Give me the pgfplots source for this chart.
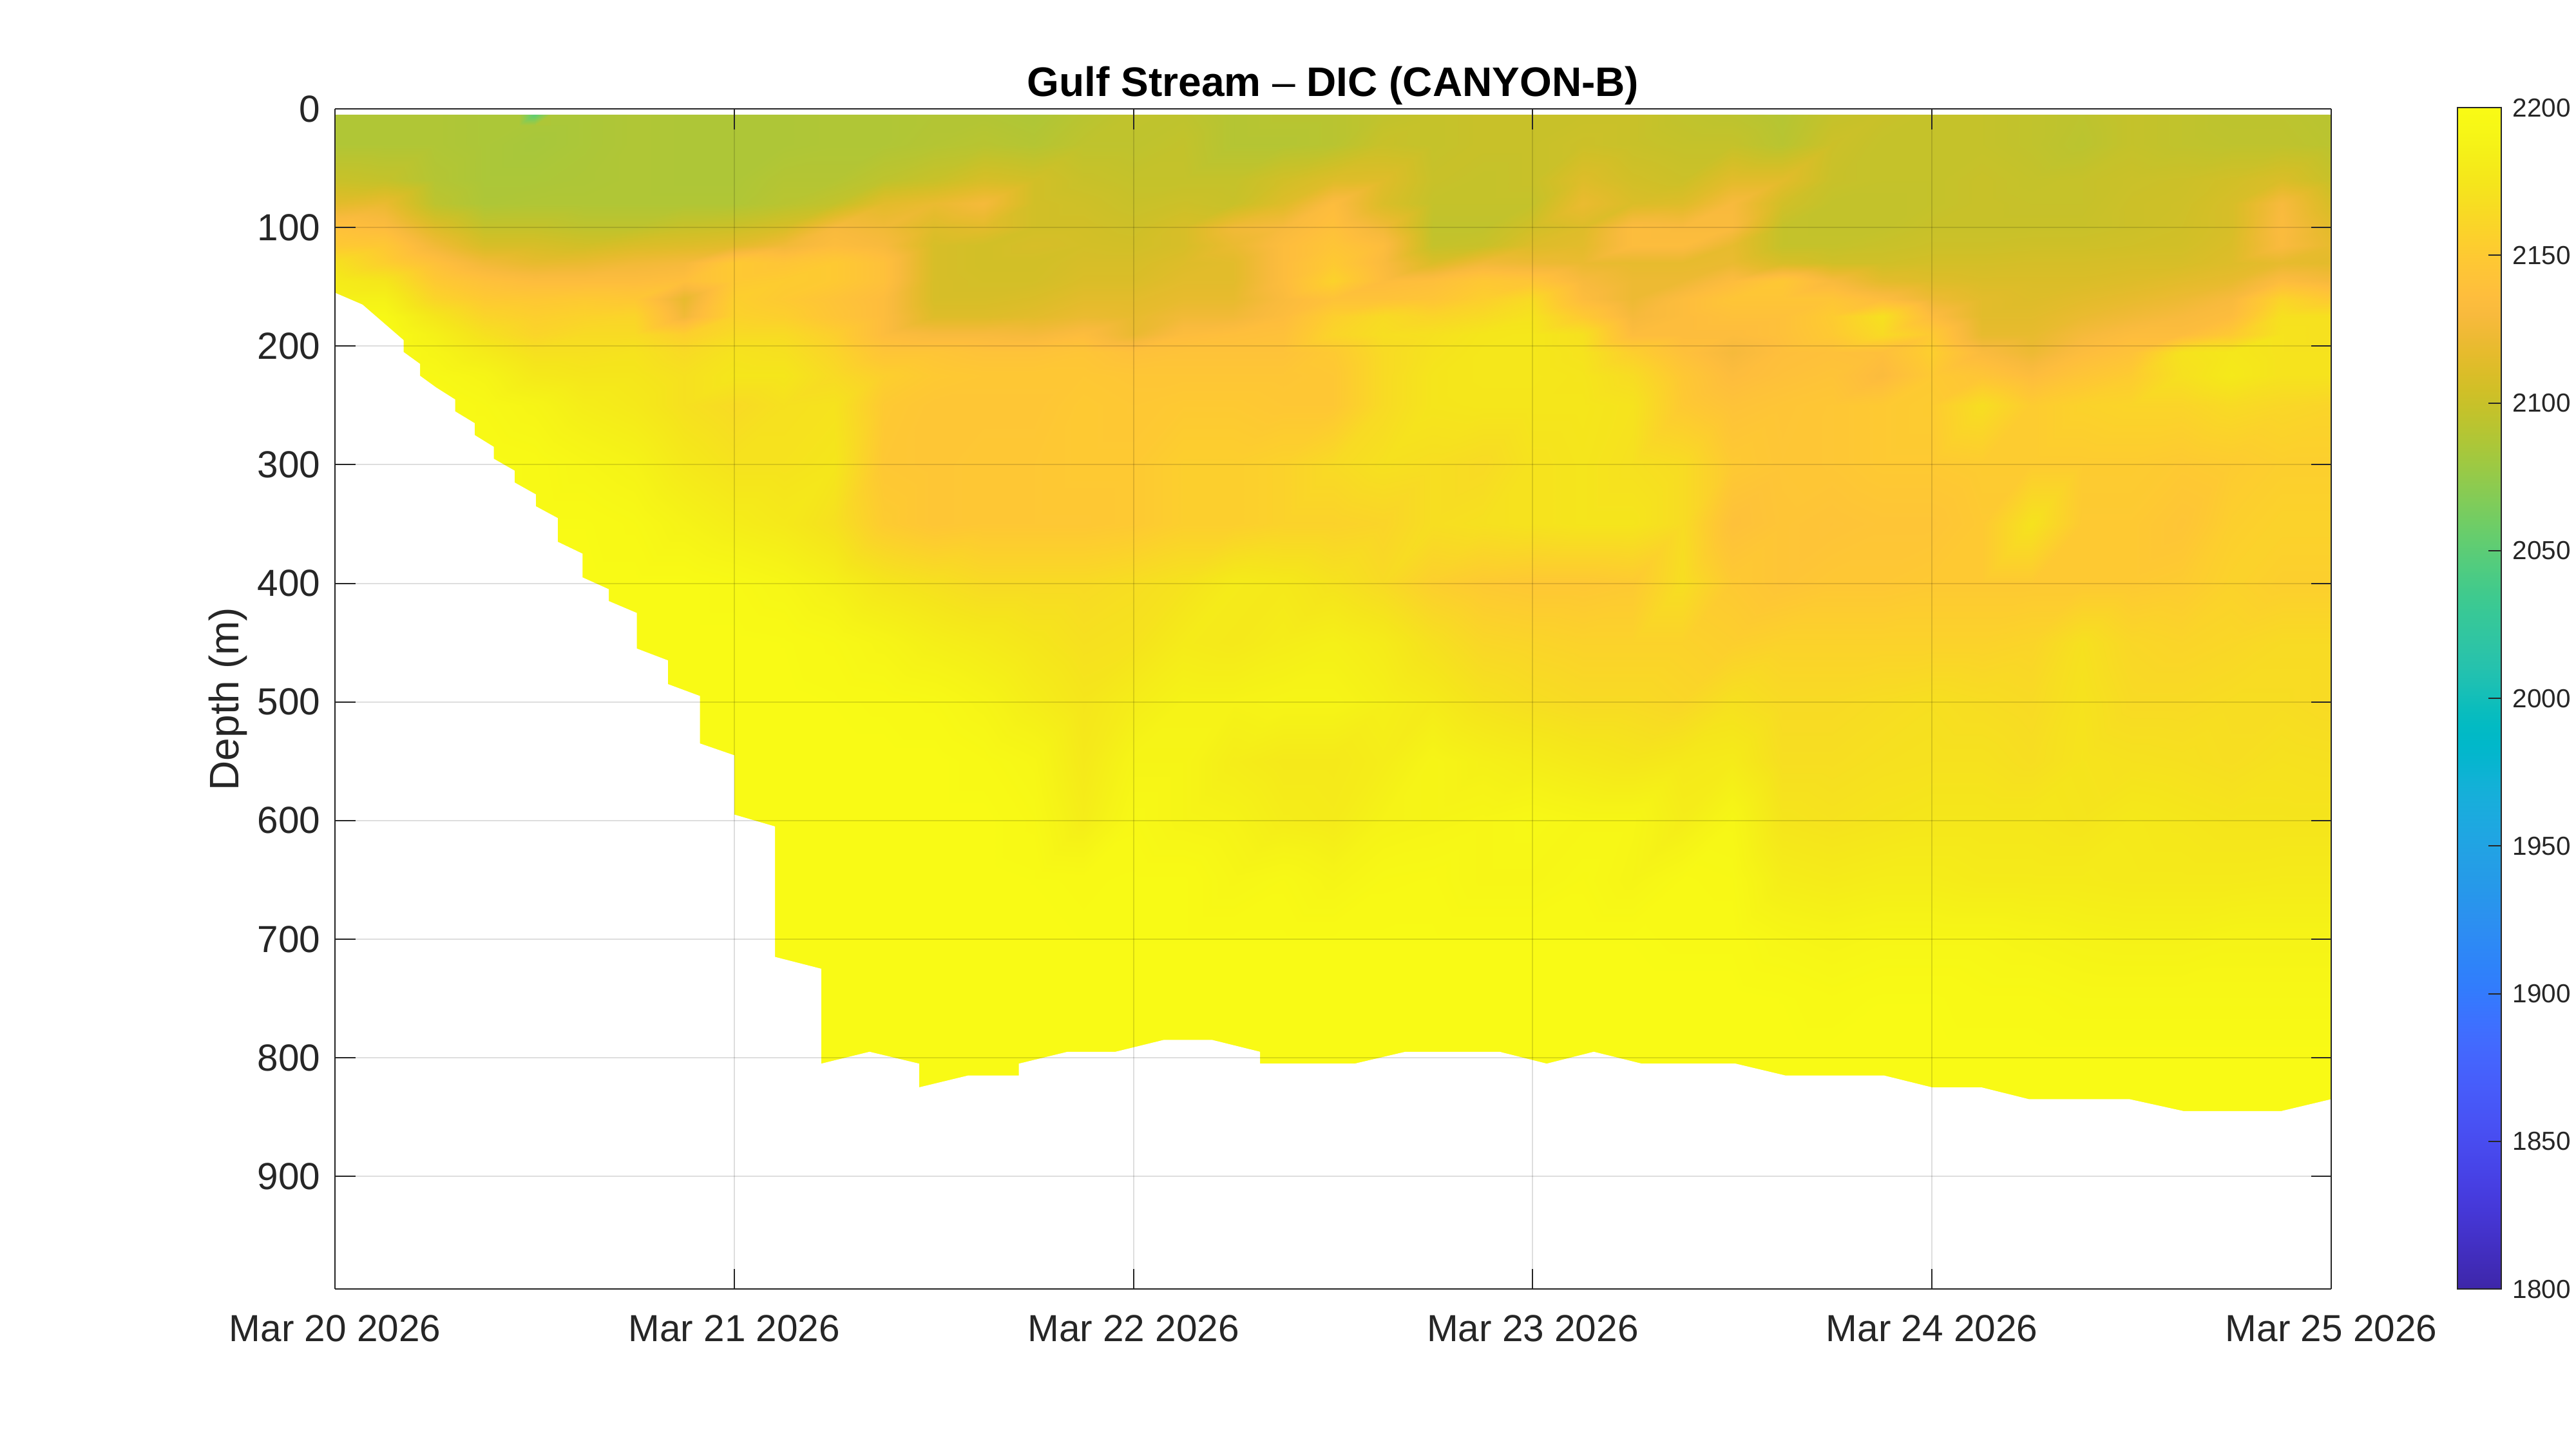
\documentclass[border=0pt]{standalone}
\usepackage{fontspec}
\setmainfont{Liberation Sans}
\usepackage{pgfplots}
\usepackage{pgfplotstable}
\pgfplotsset{compat=1.18}
\definecolor{axgray}{rgb}{0.15,0.15,0.15}
\pgfplotsset{colormap={parula}{
rgb=(0.2422,0.1504,0.6603) rgb=(0.2504,0.1650,0.7076) rgb=(0.2578,0.1818,0.7511) rgb=(0.2647,0.1978,0.7952)
rgb=(0.2706,0.2147,0.8364) rgb=(0.2751,0.2342,0.8710) rgb=(0.2783,0.2559,0.8991) rgb=(0.2803,0.2782,0.9221)
rgb=(0.2813,0.3006,0.9414) rgb=(0.2810,0.3228,0.9579) rgb=(0.2795,0.3447,0.9717) rgb=(0.2760,0.3667,0.9829)
rgb=(0.2699,0.3892,0.9906) rgb=(0.2602,0.4123,0.9952) rgb=(0.2440,0.4358,0.9988) rgb=(0.2206,0.4603,0.9973)
rgb=(0.1963,0.4847,0.9892) rgb=(0.1834,0.5074,0.9798) rgb=(0.1786,0.5289,0.9682) rgb=(0.1764,0.5499,0.9520)
rgb=(0.1687,0.5703,0.9359) rgb=(0.1540,0.5902,0.9218) rgb=(0.1460,0.6091,0.9079) rgb=(0.1380,0.6276,0.8973)
rgb=(0.1248,0.6459,0.8883) rgb=(0.1113,0.6635,0.8763) rgb=(0.0952,0.6798,0.8598) rgb=(0.0689,0.6948,0.8394)
rgb=(0.0297,0.7082,0.8163) rgb=(0.0036,0.7203,0.7917) rgb=(0.0067,0.7312,0.7660) rgb=(0.0433,0.7411,0.7394)
rgb=(0.0964,0.7500,0.7120) rgb=(0.1408,0.7584,0.6842) rgb=(0.1717,0.7670,0.6554) rgb=(0.1938,0.7758,0.6251)
rgb=(0.2161,0.7843,0.5923) rgb=(0.2470,0.7918,0.5567) rgb=(0.2906,0.7973,0.5188) rgb=(0.3406,0.8008,0.4789)
rgb=(0.3909,0.8029,0.4354) rgb=(0.4456,0.8024,0.3909) rgb=(0.5044,0.7993,0.3480) rgb=(0.5616,0.7942,0.3045)
rgb=(0.6174,0.7876,0.2612) rgb=(0.6720,0.7793,0.2227) rgb=(0.7242,0.7698,0.1910) rgb=(0.7738,0.7598,0.1646)
rgb=(0.8203,0.7498,0.1535) rgb=(0.8634,0.7406,0.1596) rgb=(0.9035,0.7330,0.1774) rgb=(0.9393,0.7288,0.2100)
rgb=(0.9728,0.7298,0.2394) rgb=(0.9956,0.7434,0.2371) rgb=(0.9970,0.7659,0.2199) rgb=(0.9952,0.7861,0.1990)
rgb=(0.9892,0.8134,0.1760) rgb=(0.9786,0.8422,0.1526) rgb=(0.9676,0.8720,0.1290) rgb=(0.9610,0.9000,0.1065)
rgb=(0.9597,0.9250,0.0985) rgb=(0.9628,0.9500,0.0900) rgb=(0.9690,0.9700,0.0850) rgb=(0.9769,0.9839,0.0805)
}}
% first column: depth (m); the others: DIC at 0, 0.125, ... 5 days after Mar 20 2026
\pgfplotstableread[header=false]{
5 2088 2088 2088 2086 2086 2086 2088 2087 2087 2087 2088 2088 2089 2089 2087 2092 2096 2095 2090 2092 2092 2096 2098 2100 2100 2100 2100 2096 2094 2090 2098 2100 2098 2098 2096 2094 2098 2096 2094 2094 2092
30 2088 2088 2088 2086 2084 2086 2088 2087 2087 2087 2088 2088 2090 2092 2090 2095 2095 2097 2090 2090 2092 2100 2098 2100 2100 2102 2100 2098 2098 2092 2102 2098 2098 2098 2096 2093 2098 2096 2095 2095 2093
60 2100 2098 2090 2086 2086 2087 2088 2087 2087 2090 2090 2095 2100 2108 2105 2100 2098 2098 2098 2105 2112 2113 2100 2098 2100 2112 2105 2102 2115 2115 2100 2098 2098 2100 2098 2099 2101 2102 2105 2110 2100
80 2115 2120 2094 2087 2088 2088 2088 2088 2088 2092 2097 2115 2120 2128 2105 2103 2100 2102 2100 2112 2135 2110 2098 2098 2098 2120 2110 2112 2130 2105 2097 2097 2098 2100 2099 2099 2102 2103 2108 2130 2108
100 2140 2135 2112 2098 2098 2095 2095 2100 2102 2108 2130 2125 2112 2115 2105 2105 2103 2108 2125 2130 2140 2125 2096 2096 2105 2112 2135 2132 2132 2098 2097 2097 2100 2100 2100 2100 2102 2104 2108 2133 2115
115 2150 2148 2125 2108 2108 2105 2110 2112 2115 2125 2135 2130 2108 2105 2108 2106 2105 2108 2120 2135 2145 2135 2098 2100 2112 2115 2135 2135 2118 2098 2098 2100 2102 2102 2103 2103 2104 2105 2110 2132 2118
130 2170 2155 2140 2125 2118 2120 2125 2128 2150 2145 2150 2140 2108 2105 2105 2108 2108 2112 2115 2135 2150 2132 2110 2125 2122 2120 2118 2118 2120 2108 2104 2104 2106 2106 2107 2107 2108 2108 2112 2118 2115
145 2180 2175 2150 2140 2135 2135 2135 2138 2150 2152 2150 2140 2108 2106 2106 2110 2110 2115 2115 2135 2158 2135 2138 2148 2145 2130 2122 2122 2135 2148 2130 2115 2112 2110 2110 2110 2112 2115 2118 2135 2128
160 2186 2186 2160 2150 2148 2150 2148 2118 2155 2150 2143 2135 2108 2108 2110 2115 2115 2118 2118 2132 2142 2142 2145 2155 2165 2135 2122 2135 2145 2145 2145 2135 2122 2115 2112 2115 2118 2122 2130 2160 2150
175 2195 2195 2175 2160 2155 2158 2160 2125 2158 2155 2145 2135 2112 2112 2115 2120 2118 2125 2125 2135 2155 2165 2160 2165 2172 2150 2128 2135 2140 2140 2152 2170 2135 2115 2115 2120 2125 2130 2135 2170 2170
190 2199 2199 2185 2170 2160 2165 2165 2155 2165 2165 2155 2135 2130 2130 2128 2135 2120 2135 2138 2140 2160 2168 2170 2175 2176 2170 2135 2135 2135 2140 2150 2165 2150 2118 2118 2128 2135 2135 2150 2172 2170
205 2199 2199 2190 2180 2170 2170 2172 2165 2172 2170 2160 2145 2145 2142 2142 2145 2140 2142 2142 2142 2150 2165 2172 2176 2176 2172 2155 2140 2128 2138 2140 2138 2155 2132 2122 2135 2142 2172 2176 2172 2172
225 2199 2199 2195 2190 2178 2175 2175 2170 2175 2175 2165 2155 2150 2148 2148 2148 2146 2146 2146 2146 2148 2165 2174 2176 2176 2174 2166 2148 2135 2140 2143 2133 2150 2145 2135 2145 2152 2170 2178 2172 2172
250 2199 2199 2199 2195 2190 2182 2178 2170 2165 2170 2172 2150 2146 2146 2146 2150 2148 2150 2150 2148 2148 2165 2174 2175 2175 2175 2172 2150 2142 2145 2147 2150 2152 2168 2152 2158 2160 2160 2165 2162 2160
300 2199 2199 2199 2199 2197 2192 2188 2178 2172 2172 2175 2148 2146 2148 2148 2150 2150 2155 2155 2158 2165 2170 2168 2165 2172 2174 2170 2166 2150 2146 2147 2150 2150 2152 2152 2152 2152 2150 2152 2155 2155
350 2199 2199 2199 2199 2198 2198 2195 2188 2182 2178 2170 2152 2146 2148 2148 2148 2150 2155 2155 2158 2158 2160 2168 2170 2172 2174 2174 2166 2140 2145 2143 2145 2145 2150 2172 2150 2150 2145 2155 2158 2158
400 2199 2199 2199 2199 2199 2199 2199 2199 2196 2192 2185 2175 2170 2165 2165 2165 2168 2172 2180 2178 2172 2165 2155 2150 2148 2148 2150 2168 2150 2145 2148 2148 2150 2150 2150 2150 2150 2152 2158 2155 2155
450 2199 2199 2199 2199 2199 2199 2199 2199 2199 2198 2195 2190 2184 2180 2175 2170 2172 2180 2178 2182 2185 2180 2170 2162 2160 2158 2158 2158 2155 2158 2158 2158 2158 2158 2160 2170 2162 2160 2162 2165 2165
500 2199 2199 2199 2199 2199 2199 2199 2199 2199 2199 2198 2197 2195 2190 2182 2175 2182 2188 2188 2190 2190 2185 2180 2172 2168 2165 2165 2162 2170 2165 2165 2167 2169 2167 2165 2172 2165 2165 2167 2167 2165
550 2199 2199 2199 2199 2199 2199 2199 2199 2199 2199 2199 2199 2199 2196 2192 2178 2190 2190 2182 2178 2178 2182 2190 2185 2182 2178 2175 2178 2180 2168 2168 2170 2171 2171 2168 2173 2171 2170 2168 2171 2170
600 2199 2199 2199 2199 2199 2199 2199 2199 2199 2199 2199 2199 2199 2199 2195 2182 2195 2190 2188 2182 2180 2188 2190 2192 2195 2192 2192 2182 2192 2174 2172 2174 2176 2176 2176 2174 2178 2176 2174 2174 2174
650 2199 2199 2199 2199 2199 2199 2199 2199 2199 2199 2199 2199 2199 2199 2198 2197 2198 2198 2192 2195 2190 2195 2196 2192 2192 2195 2190 2196 2195 2182 2180 2182 2182 2180 2180 2180 2179 2179 2179 2180 2180
700 2199 2199 2199 2199 2199 2199 2199 2199 2199 2199 2199 2199 2199 2199 2199 2198 2198 2198 2198 2198 2198 2198 2198 2198 2198 2198 2198 2197 2197 2192 2190 2192 2192 2192 2190 2188 2187 2187 2189 2189 2189
750 2199 2199 2199 2199 2199 2199 2199 2199 2199 2199 2199 2199 2199 2199 2199 2199 2199 2199 2199 2199 2199 2199 2199 2199 2199 2199 2199 2199 2199 2198 2196 2198 2198 2196 2196 2194 2194 2194 2194 2194 2194
800 2199 2199 2199 2199 2199 2199 2199 2199 2199 2199 2199 2199 2199 2199 2199 2199 2199 2199 2199 2199 2199 2199 2199 2199 2199 2199 2199 2199 2199 2199 2199 2199 2199 2199 2199 2199 2199 2199 2199 2199 2199
855 2199 2199 2199 2199 2199 2199 2199 2199 2199 2199 2199 2199 2199 2199 2199 2199 2199 2199 2199 2199 2199 2199 2199 2199 2199 2199 2199 2199 2199 2199 2199 2199 2199 2199 2199 2199 2199 2199 2199 2199 2199
}\dic
\def\coords{}
\pgfplotsforeachungrouped \r in {0,...,25}{%
  \pgfplotstablegetelem{\r}{[index]0}\of\dic \let\dd\pgfplotsretval
  \pgfplotsforeachungrouped \c in {1,...,41}{%
    \pgfplotstablegetelem{\r}{[index]\c}\of\dic \let\zz\pgfplotsretval
    \pgfmathsetmacro\xx{(\c-1)*0.125}%
    \xdef\coords{\coords (\xx,\dd,\zz)}%
  }%
}
\def\plotsurf#1{\addplot3[surf,shader=interp,mesh/cols=41,forget plot] coordinates {#1};}
\begin{document}
\begin{tikzpicture}
\path[use as bounding box] (0,0) rectangle (799.8pt,450pt);
\begin{axis}[
  at={(104pt,49.8pt)},anchor=south west,
  scale only axis,width=619.8pt,height=366.4pt,
  view={0}{90},
  xmin=0,xmax=5,ymin=0,ymax=995,y dir=reverse,
  xtick={0,1,2,3,4,5},
  xticklabels={Mar 20 2026,Mar 21 2026,Mar 22 2026,Mar 23 2026,Mar 24 2026,Mar 25 2026},
  ytick={0,100,200,300,400,500,600,700,800,900},
  ztick=\empty,
  xmajorgrids,ymajorgrids,
  grid style={black,opacity=0.13,line width=0.4pt},
  axis on top,
  tick align=inside,
  major tick length=6.3pt,
  tick style={axgray,line width=0.4pt},
  axis line style={axgray,line width=0.4pt},
  tick label style={font=\fontsize{11.7}{14}\selectfont,text=axgray},
  x tick label style={yshift=-4.5pt},
  y tick label style={xshift=-1pt},
  /pgf/number format/assume math mode=true,
  /pgf/number format/1000 sep={},
  title={\fontsize{12.8}{15}\selectfont\bfseries Gulf Stream {\mdseries –} DIC (CANYON-B)},
  title style={at={(axis description cs:0.5,1)},anchor=south,yshift=-5pt,inner sep=0pt},
  ylabel={\fontsize{12.8}{15}\selectfont Depth (m)},
  every axis y label/.style={at={(axis description cs:-0.0535,0.5)},rotate=90,anchor=center,text=axgray},
  point meta min=1800,point meta max=2200,
  colormap name=parula,
  colorbar,
  colorbar style={
    at={(1.0632,1.001)},anchor=north west,
    width=13.6pt,height=366.8pt,
    ytick={1800,1850,1900,1950,2000,2050,2100,2150,2200},
    ytick align=inside,ytick pos=right,yticklabel pos=right,
    major tick length=4pt,
    tick style={axgray,line width=0.4pt},
    axis line style={axgray,line width=0.4pt},
    yticklabel style={font=\fontsize{8.1}{10}\selectfont,text=axgray,/pgf/number format/assume math mode=true,/pgf/number format/1000 sep={}},
  },
]
\expandafter\plotsurf\expandafter{\coords}
\addplot3[surf,shader=interp,mesh/cols=3,forget plot] coordinates {
 (0.46,5,2087) (0.5,5,2050) (0.54,5,2087)
 (0.46,14,2087) (0.5,14,2087) (0.54,14,2087)};
\addplot3[draw=none,fill=white,forget plot] coordinates {
 (0,155,2200) (0.069,165,2200) (0.172,195,2200) (0.172,205,2200) (0.213,215,2200) (0.213,225,2200)
 (0.254,235,2200) (0.301,245,2200) (0.301,255,2200) (0.35,265,2200) (0.35,275,2200) (0.398,285,2200)
 (0.398,295,2200) (0.45,305,2200) (0.45,315,2200) (0.503,325,2200) (0.503,335,2200) (0.558,345,2200)
 (0.558,365,2200) (0.62,375,2200) (0.62,395,2200) (0.686,405,2200) (0.686,415,2200) (0.756,425,2200)
 (0.756,455,2200) (0.834,465,2200) (0.834,485,2200) (0.914,495,2200) (0.914,535,2200) (1,545,2200)
 (1,595,2200) (1.102,605,2200) (1.102,715,2200) (1.218,725,2200) (1.218,805,2200) (1.339,795,2200)
 (1.463,805,2200) (1.463,825,2200) (1.586,815,2200) (1.713,815,2200) (1.713,805,2200) (1.835,795,2200)
 (1.955,795,2200) (2.076,785,2200) (2.197,785,2200) (2.317,795,2200) (2.317,805,2200) (2.554,805,2200)
 (2.681,795,2200) (2.917,795,2200) (3.035,805,2200) (3.153,795,2200) (3.273,805,2200) (3.508,805,2200)
 (3.633,815,2200) (3.88,815,2200) (4,825,2200) (4.124,825,2200) (4.243,835,2200) (4.495,835,2200)
 (4.63,845,2200) (4.875,845,2200) (5,835,2200) (5,870,2200) (0,870,2200)} --cycle;
\end{axis}
\end{tikzpicture}
\end{document}
